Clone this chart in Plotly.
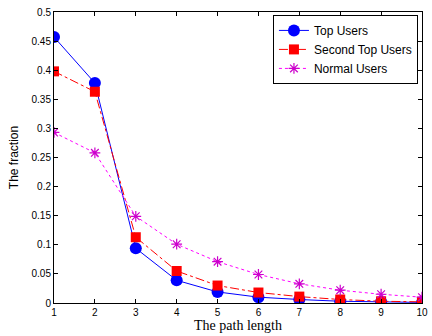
import plotly.graph_objects as go

path_length = [1, 2, 3, 4, 5, 6, 7, 8, 9, 10]
top_users = [0.457, 0.378, 0.094, 0.039, 0.019, 0.010, 0.006, 0.003, 0.002, 0.001]
second_top_users = [0.398, 0.363, 0.113, 0.055, 0.030, 0.018, 0.011, 0.006, 0.003, 0.002]
normal_users = [0.293, 0.258, 0.149, 0.101, 0.071, 0.049, 0.033, 0.022, 0.015, 0.010]

y_ticks = [0, 0.05, 0.1, 0.15, 0.2, 0.25, 0.3, 0.35, 0.4, 0.45, 0.5]
y_tick_text = ["0", "0.05", "0.1", "0.15", "0.2", "0.25", "0.3", "0.35", "0.4", "0.45", "0.5"]

SANS = "Liberation Sans, Arial, sans-serif"
SERIF = "Liberation Serif, Times New Roman, serif"

fig = go.Figure()
fig.add_trace(go.Scatter(
    x=path_length, y=top_users, name="Top Users", mode="lines+markers",
    line=dict(color="#0000ff", width=1, dash="solid"),
    marker=dict(symbol="circle", size=12, color="#0000ff"),
))
fig.add_trace(go.Scatter(
    x=path_length, y=second_top_users, name="Second Top Users", mode="lines+markers",
    line=dict(color="#ff0000", width=1, dash="dashdot"),
    marker=dict(symbol="square", size=10, color="#ff0000"),
))
fig.add_trace(go.Scatter(
    x=path_length, y=normal_users, name="Normal Users", mode="lines+markers",
    line=dict(color="#ff00ff", width=1, dash="dot"),
    marker=dict(symbol="asterisk-open", size=9, color="#cc00cc",
                line=dict(color="#cc00cc", width=1.2)),
))

axis_common = dict(
    showgrid=False, zeroline=False, showline=True, mirror="ticks",
    linecolor="black", linewidth=1, ticks="inside", ticklen=4,
    tickcolor="black", tickfont=dict(family=SANS, size=10, color="black"),
    ticklabeloverflow="allow",
)

fig.update_xaxes(
    range=[1, 10], tickvals=path_length, **axis_common,
    title=dict(text="The path length", standoff=2,
               font=dict(family=SERIF, size=14, color="black")),
)
fig.update_yaxes(
    range=[0, 0.5], tickvals=y_ticks, ticktext=y_tick_text, **axis_common,
    title=dict(text="The fraction", standoff=10,
               font=dict(family=SANS, size=12, color="black")),
)

fig.update_layout(
    width=432, height=336,
    margin=dict(l=54, r=4, t=12, b=33),
    plot_bgcolor="white", paper_bgcolor="white",
    showlegend=True,
    legend=dict(
        x=0.989, y=0.99, xanchor="right", yanchor="top",
        bgcolor="white", bordercolor="black", borderwidth=1,
        font=dict(family=SANS, size=12, color="black"),
        itemwidth=30, tracegroupgap=0,
    ),
)

fig.write_html("out.html")
